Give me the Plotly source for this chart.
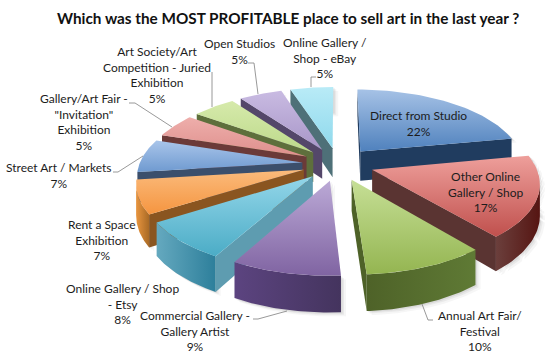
import numpy as np
import plotly.graph_objects as go

TITLE = "Which was the MOST PROFITABLE place to sell art in the last year ?"
categories = ["Direct from Studio", "Other Online Gallery / Shop", "Annual Art Fair/ Festival",
              "Commercial Gallery - Gallery Artist", "Online Gallery / Shop - Etsy",
              "Rent a Space Exhibition", "Street Art / Markets",
              "Gallery/Art Fair - \"Invitation\" Exhibition",
              "Art Society/Art Competition - Juried Exhibition", "Open Studios",
              "Online Gallery / Shop - eBay"]
values = [22, 17, 10, 9, 8, 7, 7, 5, 5, 5, 5]
face_top = ["#a6c2e6", "#ee9f9b", "#c6df96", "#bba9d6", "#93d6e9", "#fbbb7c", "#a9c5ea", "#eeaeab", "#d6eaab", "#c9bbe2", "#b9ebf7"]
face_bot = ["#4f81bd", "#c0504d", "#94b551", "#8064a2", "#4bacc6", "#f59540", "#6f9ad0", "#de8f8c", "#bcd98a", "#a896c8", "#8fd9ec"]
wall_left = ["#1f3a5c", "#6b3f3c", "#4e6228", "#5c4480", "#65a9bf", "#e8953f", "#3f5677", "#6b3a38", "#5e6f3c", "#54476a", "#4e7078"]
wall_right = ["#1f3a5c", "#561512", "#5f7a35", "#44345e", "#2d7f9b", "#a96a25", "#3f5677", "#6b3a38", "#5e6f3c", "#54476a", "#4e7078"]
side_col = ["#203c5f", "#5a3432", "#4e6228", "#4c3a66", "#5e9cb0", "#8a5520", "#3b4f6c", "#6b3a38", "#5e6f3c", "#54476a", "#4e7078"]

label_texts = ["Direct from Studio<br>22%", "Other Online<br>Gallery / Shop<br>17%", "Annual Art Fair/<br>Festival<br>10%",
               "Commercial Gallery -<br>Gallery Artist<br>9%", "Online Gallery / Shop<br>- Etsy<br>8%",
               "Rent a Space<br>Exhibition<br>7%", "Street Art / Markets<br>7%",
               "Gallery/Art Fair -<br>\"Invitation\"<br>Exhibition<br>5%",
               "Art Society/Art<br>Competition - Juried<br>Exhibition<br>5%", "Open Studios<br>5%",
               "Online Gallery /<br>Shop - eBay<br>5%"]
label_x = [418, 485, 480, 195, 122, 102, 58, 84, 157, 239, 325]
label_y = [123, 192, 331, 331, 304, 240, 175, 122, 75, 51, 58]
leaders = [
    [(248, 63), (254, 63), (258, 94)],
    [(212, 72), (212, 107)],
    [(129, 103), (135, 103), (172, 127)],
    [(113, 172), (118, 172), (143, 156)],
    [(316, 77), (311, 77), (311, 87)],
    [(253, 319), (258, 319), (287, 311)],
    [(433, 320), (428, 320), (422, 304)],
]

# projection of the tilted pie
CX, CY = 338.0, 164.0
K, M, A = 163.0, 75.0, 0.152
EXPLODE = 0.22
DEPTH = 30.0


def project(X, Y, z=0.0):
    d = 1 + A * Y
    return CX + K * X / d, CY - M * Y / d + z / d


fig = go.Figure()


def poly(pts, fillcolor=None, grad=None, line=None):
    xs = [p[0] for p in pts] + [pts[0][0]]
    ys = [p[1] for p in pts] + [pts[0][1]]
    tr = dict(x=xs, y=ys, mode="lines", fill="toself", hoverinfo="skip", showlegend=False,
              line=dict(width=0.4 if line else 0, color=line or "rgba(0,0,0,0)"))
    if grad is not None:
        tr["fillgradient"] = grad
        tr["fillcolor"] = "rgba(0,0,0,0)"
    else:
        tr["fillcolor"] = fillcolor
    fig.add_trace(go.Scatter(**tr))


fracs = np.cumsum([0] + values) / sum(values) * 2 * np.pi
slices = []
for i in range(len(values)):
    a0, a1 = fracs[i], fracs[i + 1]
    mid = (a0 + a1) / 2
    ox, oy = EXPLODE * np.sin(mid), EXPLODE * np.cos(mid)
    th = np.linspace(a0, a1, 40)
    top = [project(ox, oy)] + [project(ox + np.sin(t), oy + np.cos(t)) for t in th]
    bot = [project(ox, oy, DEPTH)] + [project(ox + np.sin(t), oy + np.cos(t), DEPTH) for t in th]
    slices.append((i, oy, top, bot))

# far slices first, the near ones over them
slices.sort(key=lambda s: -s[1])

# soft shadow of each block
for i, oy, top, bot in slices:
    outline = top + bot
    for off, alpha in ((5, 0.05), (3, 0.07), (1.5, 0.09)):
        pts = np.array(outline, dtype=float)
        c = pts.mean(axis=0)
        order = np.argsort(np.arctan2(pts[:, 1] - c[1], pts[:, 0] - c[0]))
        poly([(x + off, y + off * 0.8) for x, y in pts[order]], fillcolor=f"rgba(70,70,70,{alpha})")

for i, oy, top, bot in slices:
    n = len(top)
    # outer rim and the two cut sides, only where they face the viewer
    arc_idx = [j for j in range(1, n - 1) if top[j + 1][0] < top[j][0]]
    if arc_idx:
        seq = arc_idx + [arc_idx[-1] + 1]
        pts = [top[j] for j in seq] + [bot[j] for j in reversed(seq)]
        xs = [p[0] for p in pts]
        poly(pts, grad=dict(type="horizontal", start=min(xs), stop=max(xs),
                            colorscale=[[0, wall_left[i]], [1, wall_right[i]]]))
    if top[1][0] < top[0][0]:
        poly([top[0], top[1], bot[1], bot[0]], fillcolor=side_col[i])
    if top[0][0] < top[-1][0]:
        poly([top[-1], top[0], bot[0], bot[-1]], fillcolor=side_col[i])
    ys = [p[1] for p in top]
    poly(top, grad=dict(type="vertical", start=min(ys), stop=max(ys),
                        colorscale=[[0, face_top[i]], [1, face_bot[i]]]))

for seg in leaders:
    fig.add_trace(go.Scatter(x=[p[0] for p in seg], y=[p[1] for p in seg], mode="lines",
                             line=dict(color="#7f7f7f", width=0.8), hoverinfo="skip", showlegend=False))

ann = [dict(x=x, y=y, text=t, showarrow=False, xanchor="center", yanchor="middle",
            font=dict(family="Lato, Carlito, sans-serif", size=12, color="#1c1c1c"))
       for x, y, t in zip(label_x, label_y, label_texts)]
ann.append(dict(x=287.5, y=18, text=f"<b>{TITLE}</b>", showarrow=False, xanchor="center", yanchor="middle",
                font=dict(family="Lato, Carlito, sans-serif", size=15.3, color="#111111")))

fig.update_layout(width=550, height=356, autosize=False, margin=dict(l=0, r=0, t=0, b=0),
                  paper_bgcolor="white", plot_bgcolor="white", annotations=ann, showlegend=False,
                  xaxis=dict(range=[0, 550], visible=False, fixedrange=True),
                  yaxis=dict(range=[356, 0], visible=False, fixedrange=True))
fig.write_html("out.html", config=dict(displayModeBar=False),
               post_script="document.body.style.margin='0';")
